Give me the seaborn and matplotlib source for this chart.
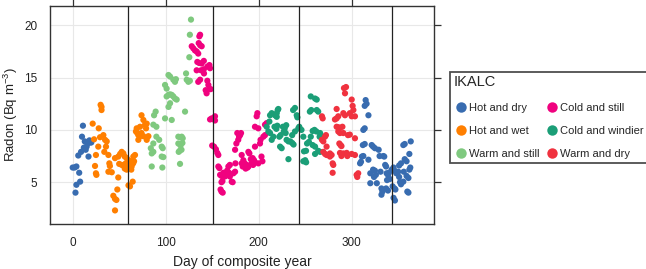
import numpy as np
import pandas as pd
import seaborn as sns
import matplotlib.pyplot as plt
from matplotlib.lines import Line2D

# datos (dia del año compuesto, radon)
hot_dry_days = [0, 2, 4, 3, 4, 6, 7, 8, 9, 10, 11, 13, 14, 15, 16, 17, 18, 19, 20, 12,
                309, 310, 311, 312.5, 312, 314, 312.5, 314, 314, 315, 316, 318, 318, 320, 320,
                321.5, 323, 325, 323, 325, 324, 326, 327, 329, 330, 331, 332, 333, 332, 334,
                335, 336, 337, 337.6, 339, 340, 338, 341, 337, 339, 343, 345, 346, 344, 346,
                347, 345, 346.5, 348, 350, 351, 352, 353, 351, 353, 355.5, 357, 357, 359,
                359.8, 361, 359, 361, 362, 363, 362, 363.5, 355.5, 356]
hot_dry_rn = [6.4, 6.4, 6.5, 4.0, 4.75, 7.55, 5.9, 5.05, 7.9, 9.35, 10.4, 8.9, 8.1, 8.4, 8.7, 7.45, 9.0, 8.8, 8.8, 8.3,
              6.8, 6.95, 7.45, 7.5, 8.55, 8.65, 10.0, 10.15, 12.3, 12.85, 12.5, 11.4, 7.15, 5.85, 4.9,
              8.55, 8.4, 8.25, 6.2, 6.1, 5.5, 5.7, 4.9, 8.1, 7.5, 6.0, 4.4, 4.1, 3.8, 7.5,
              7.45, 6.65, 6.5, 5.85, 5.7, 5.9, 5.2, 5.3, 4.4, 4.2, 6.2, 6.4, 6.1, 4.6, 4.4,
              4.3, 3.5, 3.25, 5.85, 6.0, 5.5, 5.0, 4.8, 6.6, 6.8, 8.55, 8.65, 7.2, 7.0,
              4.1, 4.0, 5.6, 5.4, 6.2, 6.4, 7.7, 8.9, 5.05, 6.0]

hot_wet_days = [21.5, 23, 24, 25, 25.5, 25, 27.5, 28, 29.4, 30, 31, 31, 33, 34, 34.8, 35.8, 36.6,
                38.4, 38.4, 39.4, 40, 42, 43.7, 45.5, 47, 45.5, 48, 49, 45.5, 49, 51, 52.7, 54.5,
                50, 52.7, 55, 56, 58, 60, 62, 56, 58, 60, 61.6, 63.4, 65, 64.5, 67, 65.2, 68.8,
                69.5, 68, 72.4, 74, 70.6, 74, 76, 77.8, 79.6, 78.9, 76, 81.4, 79.6, 72.4, 70.6,
                57, 59, 61, 63, 66]
hot_wet_rn = [10.6, 9.1, 6.55, 5.85, 5.7, 7.6, 8.4, 10.15, 9.3, 12.4, 12.2, 11.9, 9.5, 7.9, 9.05, 8.4, 8.9,
              7.6, 6.0, 6.8, 6.55, 5.95, 3.7, 3.4, 3.3, 2.3, 4.3, 5.45, 7.3, 7.45, 7.7, 7.9, 7.75,
              6.75, 6.65, 6.55, 7.45, 7.3, 7.1, 7.0, 6.3, 6.2, 4.7, 4.6, 6.5, 6.8, 5.05, 7.6, 7.45, 10.15,
              9.7, 9.85, 9.4, 9.7, 9.05, 11.4, 10.95, 10.5, 10.6, 10.15, 9.4, 9.4, 9.05, 10.3, 9.5,
              6.8, 6.9, 6.6, 6.2, 7.0]

warm_still_days = [85, 85, 86.7, 84, 86.7, 87.5, 89.2, 86.7, 90, 93, 90, 95.7, 96.8, 95.7, 97.5, 96.4,
                   99.3, 99.3, 101, 103, 104.7, 101, 103, 104.7, 106.5, 103, 104.7, 108.2, 110, 111.8,
                   106.5, 108.2, 110, 111, 113.6, 115.4, 117.2, 118.3, 113.6, 116, 118, 117, 115, 114,
                   115.4, 120.8, 121.9, 122.6, 124.4, 126, 125.4, 126, 127.2]
warm_still_rn = [6.5, 7.75, 7.9, 8.25, 8.7, 11.4, 11.75, 10.5, 10.3, 9.05, 9.35, 8.4, 8.25, 7.45, 7.4, 6.4,
                 11.1, 14.3, 13.95, 15.25, 15.1, 13.2, 13.35, 13.4, 13.35, 12.2, 12.55, 13.2, 13.0, 12.9,
                 10.95, 14.8, 14.6, 14.85, 9.35, 9.3, 9.35, 9.2, 8.7, 8.5, 8.75, 8.1, 8.0, 7.9,
                 6.75, 11.75, 15.4, 14.8, 14.6, 14.7, 16.95, 19.1, 20.55]

cold_still_days = [128, 129.7, 131.5, 133.3, 135, 137, 136.2, 135.5, 137, 138.7, 134, 136, 138.7, 141,
                   133.3, 138, 141, 135, 137, 141.2, 144.8, 147, 147.7, 144.8, 145.9, 147, 143, 144,
                   148.4, 147.7, 149.5, 151.3, 153, 153, 150, 152, 154, 155.5, 156.6, 156.6, 157.7,
                   158.5, 160, 161, 159, 160, 161.3, 160, 161, 162, 164, 166, 167.5, 167.4, 169, 169,
                   171, 172, 163.8, 172.8, 174.6, 175, 176, 178, 178.9, 180, 181, 177, 174.6, 181.7,
                   183.5, 185, 187, 189, 181.7, 182.8, 186, 188, 188.9, 190, 191.5, 193.5, 195, 192,
                   194, 196, 196, 197.8, 198.6, 196, 199.6, 199.6, 201.4, 202, 203, 205, 206.8, 206.8,
                   208.6, 204]
cold_still_rn = [18.0, 17.8, 17.6, 17.5, 17.3, 19.1, 18.95, 18.3, 18.1, 18.0, 16.5, 16.4, 16.35, 16.6,
                 15.7, 15.7, 15.8, 14.6, 14.8, 15.4, 16.05, 16.2, 15.9, 14.7, 14.3, 13.9, 13.8, 13.5,
                 13.9, 11.0, 11.1, 11.1, 11.3, 10.9, 8.5, 8.4, 8.15, 7.8, 7.6, 6.5, 6.35,
                 5.7, 5.6, 5.7, 4.3, 4.1, 4.0, 5.0, 5.1, 5.9, 5.75, 6.1, 5.95, 6.5, 6.65, 5.55,
                 5.05, 5.0, 5.55, 5.85, 6.0, 6.8, 8.7, 9.05, 9.35, 9.5, 9.7, 9.7, 8.1, 7.6,
                 7.1, 6.8, 6.65, 6.5, 6.8, 6.5, 6.3, 6.4, 7.9, 7.75, 7.2, 7.3, 7.1, 6.75,
                 6.65, 6.9, 8.4, 11.3, 11.6, 10.3, 10.15, 6.8, 8.7, 9.05, 7.45, 9.35, 9.5, 10.5,
                 10.65, 7.0]

cold_windy_days = [208.6, 211.5, 212.2, 214, 210.4, 212.2, 214, 215.8, 217, 219, 220, 219.4, 220.4, 221.1,
                   217.6, 219.4, 222.2, 223.6, 223, 224.7, 226, 228, 229.6, 227, 229, 230, 232, 232,
                   234, 236, 237.5, 237, 239, 236, 239, 240.9, 241.6, 242.6, 243.6, 244, 246, 248,
                   248.7, 250.9, 248, 250, 251, 252, 254, 256, 255, 256.5, 256, 258, 260, 262, 260.6,
                   262.4, 262.4, 264, 258, 260.6, 260.6, 264, 265.5, 266.5, 266, 266]
cold_windy_rn = [10.3, 10.8, 11.4, 11.6, 9.85, 9.7, 9.05, 9.35, 10.3, 10.1, 10.4, 11.6, 11.9, 12.0,
                 11.4, 11.25, 9.35, 9.5, 8.4, 8.25, 10.3, 10.15, 10.45, 9.85, 9.7, 9.05, 8.9, 7.2,
                 8.9, 8.75, 8.6, 11.9, 12.1, 9.5, 9.85, 11.4, 11.2, 10.15, 10.3, 10.15, 10.0, 9.35,
                 7.95, 8.0, 7.0, 7.1, 6.9, 8.7, 8.85, 9.35, 11.75, 11.9, 13.2, 9.9, 10.0, 9.85, 13.0,
                 12.9, 11.9, 11.75, 8.55, 8.4, 7.7, 8.0, 9.35, 9.5, 9.7, 7.9]

warm_dry_days = [268, 268.8, 268, 269.5, 271.3, 272.3, 273, 269.5, 271.3, 273, 276.6, 278.4, 276.6,
                 279.5, 280.2, 279.5, 282, 283.8, 285.6, 283.8, 285.6, 287.4, 290, 283.8, 285.6,
                 287.4, 291, 286.7, 288, 289, 287.4, 289, 291, 291, 292.8, 291.7, 293.9, 292.8,
                 294.6, 295.3, 296, 298, 298, 300, 300, 301, 301.8, 303.5, 303.5, 300, 303.5,
                 305.3, 307, 306]
warm_dry_rn = [11.3, 11.1, 9.05, 8.9, 9.35, 9.5, 8.4, 7.9, 7.7, 7.6, 7.45, 7.6, 7.75,
               6.8, 6.65, 5.9, 11.0, 11.1, 11.3, 10.3, 10.25, 10.2, 10.3, 12.0, 9.85,
               9.7, 9.7, 8.7, 8.55, 8.45, 7.8, 7.5, 7.75, 11.6, 11.4, 14.0, 14.1, 13.5,
               7.8, 7.5, 9.5, 9.55, 11.6, 11.3, 12.9, 12.3, 11.9, 11.3, 9.2, 7.7, 7.6,
               5.7, 5.85, 5.5]

categorias = ["Hot and dry", "Hot and wet", "Warm and still",
              "Cold and still", "Cold and windier", "Warm and dry"]
colores = ["#386cb0", "#ff7f00", "#7fc97f", "#f0027f", "#1b9e77", "#f0323f"]
limites = [59.5, 151, 243, 343]

dias = [hot_dry_days, hot_wet_days, warm_still_days, cold_still_days, cold_windy_days, warm_dry_days]
radon = [hot_dry_rn, hot_wet_rn, warm_still_rn, cold_still_rn, cold_windy_rn, warm_dry_rn]

filas = []
for cat, d, r in zip(categorias, dias, radon):
    for x, y in zip(d, r):
        filas.append([cat, x, y])
df = pd.DataFrame(filas, columns=["IKALC", "Dia", "Radon"])

sns.set_style("white")
plt.rcParams["font.family"] = ["Liberation Sans", "DejaVu Sans"]
plt.rcParams["mathtext.default"] = "regular"

fig = plt.figure(figsize=(6.46, 2.69), dpi=100)
ax = fig.add_axes([50 / 646, 1 - 224 / 269, 384 / 646, 218 / 269])

paleta = dict(zip(categorias, colores))
sns.scatterplot(data=df, x="Dia", y="Radon", hue="IKALC", hue_order=categorias,
                palette=paleta, s=20, linewidth=0, alpha=1, ax=ax, legend=False, zorder=3)

for v in limites:
    ax.axvline(v, color="#222222", lw=0.9, zorder=4)

ax.set_xlim(-24.4, 388.5)
ax.set_ylim(1.0, 21.85)
ax.set_xticks([0, 100, 200, 300])
ax.set_yticks([5, 10, 15, 20])
ax.grid(True, color="#e8e8e8", lw=0.8, zorder=0)
ax.set_axisbelow(True)
for s in ax.spines.values():
    s.set_color("#333333")
    s.set_linewidth(1.0)
ax.tick_params(axis="both", which="both", direction="out", length=5, width=0.9,
               color="#333333", top=True, right=True, labeltop=False, labelright=False,
               labelsize=8.5, labelcolor="#222222", pad=4)
ax.set_xlabel("Day of composite year", fontsize=10, color="#222222", labelpad=5)
ax.set_ylabel("Radon (Bq m$^{-3}$)", fontsize=9.5, color="#222222", labelpad=3)

handles = [Line2D([], [], marker="o", ls="", markersize=7.5, color=c, markeredgewidth=0)
           for c in colores]
leg = fig.legend(handles, categorias, title="IKALC", ncol=2, loc="upper left",
                 bbox_to_anchor=(450 / 646, 1 - 72 / 269), frameon=True, fancybox=False,
                 fontsize=8, title_fontsize=10.5, handletextpad=0.05, columnspacing=0.5,
                 labelspacing=1.2, borderpad=0.3, handlelength=1.35, borderaxespad=0)
leg._legend_box.align = "left"
leg.get_frame().set_edgecolor("#222222")
leg.get_frame().set_linewidth(1.3)

fig.savefig("out.png", dpi=100)
